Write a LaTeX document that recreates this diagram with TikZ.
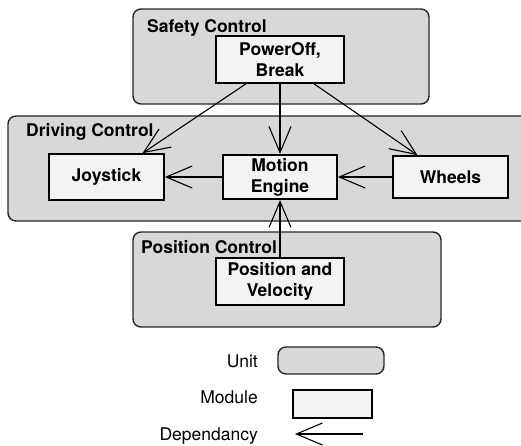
\documentclass[tikz,border=0pt]{standalone}
\usepackage{fontspec}
\setmainfont{TeX Gyre Heros}
\usetikzlibrary{arrows.meta}
\usetikzlibrary{positioning}
\definecolor{unitgray}{RGB}{216,216,216}
\definecolor{modgray}{RGB}{243,243,243}

\begin{document}
\begin{tikzpicture}[x=1pt,y=-1pt]
  \tikzset{unit/.style = {draw=black!85, fill=unitgray, rounded corners=8pt, line width=1.4pt}}
  \tikzset{module/.style = {draw, fill=modgray, line width=1.6pt, align=center,
      font=\bfseries\fontsize{17.5}{21}\selectfont}}
  \tikzset{title/.style = {anchor=base west, inner sep=0pt, font=\bfseries\fontsize{17.5}{21}\selectfont}}
  \tikzset{key/.style = {anchor=base east, inner sep=0pt, font=\fontsize{17.5}{21}\selectfont}}
  \tikzset{line/.style={draw, line width=1.1pt, -{Straight Barb[length=26pt,width=22pt]}}}

  \useasboundingbox (0,0) rectangle (521,445);
  \clip (0,0) rectangle (521,445);

  %%%%%%%%%%%%

  \node[unit, minimum width=296pt, minimum height=95pt] (safety) at (281,56.5) {};
  \node[title] (safetyname) at (147,32) {Safety Control};
  \node[module, minimum width=128pt, minimum height=47pt] (power) at (280,59.5)
  {PowerOff,\\Break};

  %%%%%%%%%%%%

  \node[unit, minimum width=527pt, minimum height=105pt] (driving) at (271.5,168.5) {};
  \node[title] (drivingname) at (26,136) {Driving Control};

  \node[module, minimum width=115pt, minimum height=46pt] (joy) at (106.5,177) {Joystick};
  \node[module, minimum width=114pt, minimum height=40pt] (motion) at (280,177)
  {Motion\\Engine};
  \node[module, minimum width=115pt, minimum height=42pt] (wheels) at (450.5,177) {Wheels};

  %%%%%%%%%%%%

  \node[unit, minimum width=308pt, minimum height=95pt] (position) at (287,279.5) {};
  \node[title] (positionname) at (141,253) {Position Control};
  \node[module, minimum width=128pt, minimum height=47pt] (posvel) at (280,281.5)
  {Position and\\Velocity};

  %%%%%%%%%%%%

  \path ([xshift=-34pt]power.south) edge[line] ([xshift=36pt]joy.north);
  \path (power.south) edge[line] (motion.north);
  \path ([xshift=34pt]power.south) edge[line] ([xshift=-33pt]wheels.north);
  \path (motion.west) edge[line] (joy.east);
  \path (wheels.west) edge[line] (motion.east);
  \path (posvel.north) edge[line] (motion.south);

  %%%%%%%%%%%% legend

  \node[key] (unitkey) at (258,367.5) {Unit};
  \node[unit, minimum width=106pt, minimum height=27pt] (unitbox) at (331,360.5) {};

  \node[key] (modkey) at (258,403) {Module};
  \node[module, minimum width=79pt, minimum height=28pt] (modbox) at (332.5,404) {};

  \node[key] (depkey) at (258,440) {Dependancy};
  \coordinate (depA) at (363,434);
  \coordinate (depB) at (295,434);
  \path (depA) edge[line] (depB);

\end{tikzpicture}
\end{document}
